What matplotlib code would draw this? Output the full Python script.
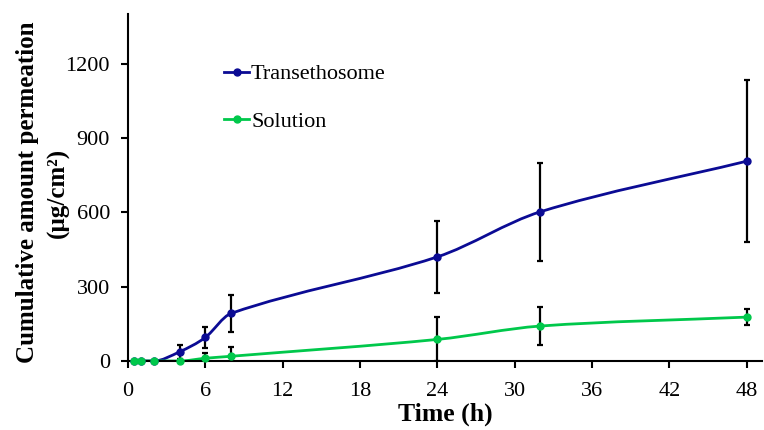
import numpy as np
import matplotlib
matplotlib.use("Agg")
import matplotlib.pyplot as plt
from matplotlib.path import Path
from matplotlib.patches import PathPatch
from matplotlib.lines import Line2D

# data
time_h = [0.5, 1, 2, 4, 6, 8, 24, 32, 48]
transethosome = [0, 0, 0, 37, 95, 192, 420, 602, 806]
transethosome_err = [0, 0, 0, 27, 41, 75, 145, 197, 327]
solution = [0, 0, 0, 0, 11, 19, 87, 141, 177]
solution_err = [0, 0, 0, 0, 22, 39, 89, 75, 33]

x_ticks = [0, 6, 12, 18, 24, 30, 36, 42, 48]
y_ticks = [0, 300, 600, 900, 1200]

BLUE = "#0b0b94"
GREEN = "#00c84b"

plt.rcParams["font.family"] = ["Liberation Serif", "DejaVu Serif"]


def smooth_path(xs, ys):
    """Smoothed line (cubic Hermite in x) drawn as Bezier segments"""
    x = np.asarray(xs, dtype=float)
    y = np.asarray(ys, dtype=float)
    n = len(x)
    chord = np.diff(y) / np.diff(x)
    slope = np.zeros(n)
    for i in range(1, n - 1):
        if chord[i - 1] * chord[i] > 0:
            slope[i] = (y[i + 1] - y[i - 1]) / (x[i + 1] - x[i - 1])
    slope[-1] = chord[-1]
    verts = [(x[0], y[0])]
    codes = [Path.MOVETO]
    for i in range(n - 1):
        h = (x[i + 1] - x[i]) / 3.0
        verts += [(x[i] + h, y[i] + h * slope[i]),
                  (x[i + 1] - h, y[i + 1] - h * slope[i + 1]),
                  (x[i + 1], y[i + 1])]
        codes += [Path.CURVE4] * 3
    return Path(verts, codes)


def main():
    fig = plt.figure(figsize=(7.64, 4.30), dpi=100)
    ax = fig.add_axes([0.1675, 0.1605, 0.83, 0.807])

    for ys, err, col in [(transethosome, transethosome_err, BLUE),
                         (solution, solution_err, GREEN)]:
        ax.add_patch(PathPatch(smooth_path(time_h, ys), fill=False,
                               edgecolor=col, lw=2.0, zorder=2,
                               capstyle="round"))
        e = np.array(err, dtype=float)
        mask = e > 0
        ax.errorbar(np.array(time_h)[mask], np.array(ys)[mask], yerr=e[mask],
                    fmt="none", ecolor="black", elinewidth=1.6, capsize=2.5,
                    capthick=1.6, zorder=3)
        ax.plot(time_h, ys, linestyle="none", marker="o", markersize=5,
                color=col, zorder=4, clip_on=False)

    ax.set_xlim(0, 49.2)
    ax.set_ylim(0, 1400)
    ax.set_xticks(x_ticks)
    ax.set_yticks(y_ticks)
    ax.tick_params(direction="out", length=5, width=1.5, labelsize=16)
    ax.tick_params(axis="x", pad=10)
    ax.tick_params(axis="y", pad=8)
    for side in ["top", "right"]:
        ax.spines[side].set_visible(False)
    for side in ["left", "bottom"]:
        ax.spines[side].set_linewidth(1.5)

    ax.set_xlabel("Time (h)", fontsize=18.5, fontweight="bold", labelpad=1)
    ax.set_ylabel("Cumulative amount permeation\n(\u00b5g/cm\u00b2)",
                  fontsize=18, fontweight="bold", linespacing=1.4)
    ax.yaxis.set_label_coords(-0.092, 0.485)

    handles = [
        Line2D([], [], color=BLUE, lw=2.0, marker="o", markersize=5),
        Line2D([], [], color=GREEN, lw=2.0, marker="o", markersize=5),
    ]
    ax.legend(handles, ["Transethosome", "Solution"], loc="upper left",
              bbox_to_anchor=(0.152, 0.856), frameon=False, fontsize=16,
              handlelength=1.1, handletextpad=0.1, labelspacing=1.2,
              borderpad=0, borderaxespad=0)

    fig.savefig("out.png", dpi=100)


if __name__ == "__main__":
    main()
